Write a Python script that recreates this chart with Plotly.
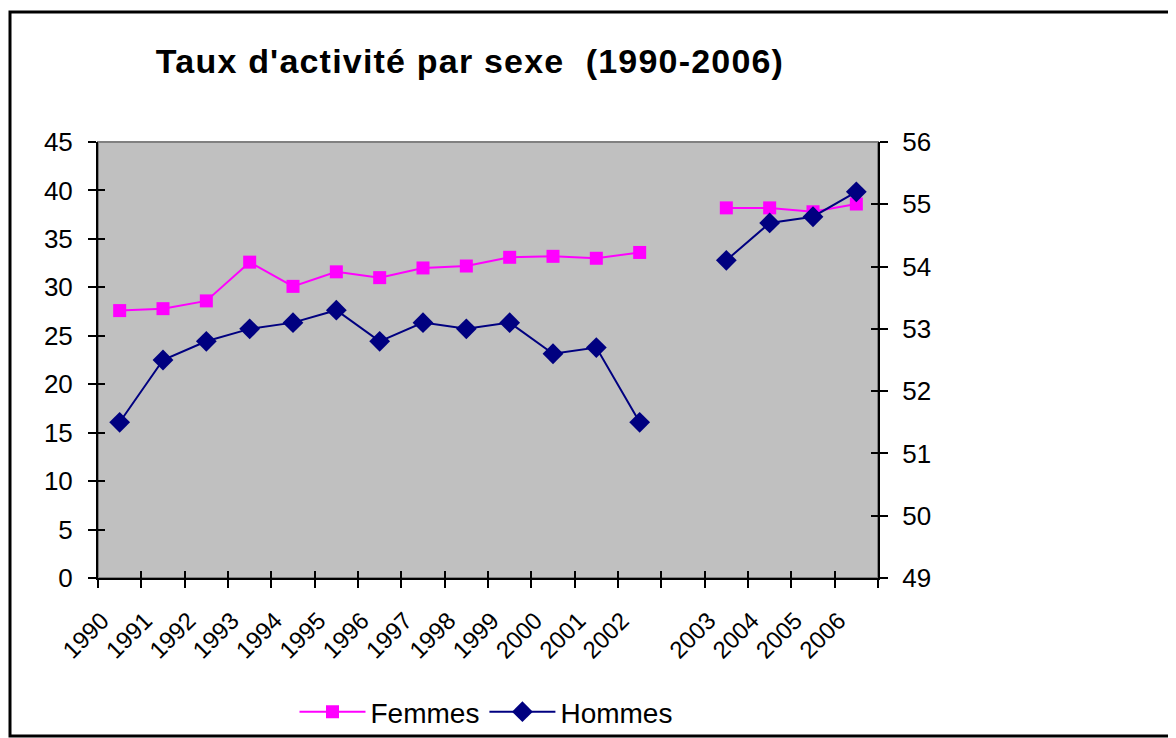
import plotly.graph_objects as go

# ---- data ----
years = ["1990", "1991", "1992", "1993", "1994", "1995", "1996", "1997", "1998",
         "1999", "2000", "2001", "2002", "", "2003", "2004", "2005", "2006"]
femmes = [27.6, 27.8, 28.6, 32.6, 30.1, 31.6, 31.0, 32.0, 32.2,
          33.1, 33.2, 33.0, 33.6, None, 38.2, 38.2, 37.8, 38.6]
hommes = [51.5, 52.5, 52.8, 53.0, 53.1, 53.3, 52.8, 53.1, 53.0,
          53.1, 52.6, 52.7, 51.5, None, 54.1, 54.7, 54.8, 55.2]
left_ticks = [0, 5, 10, 15, 20, 25, 30, 35, 40, 45]
right_ticks = [49, 50, 51, 52, 53, 54, 55, 56]
title_text = "Taux d'activité par sexe  (1990-2006)"

# page has an 8px body margin -> figure coordinates = page coordinates - 8
OFF = 8
W, H = 1176, 738
L, R, T, B = 98 - OFF, 878 - OFF, 142 - OFF, 578 - OFF

xpos = list(range(len(years)))
bounds = [i - 0.5 for i in range(len(years) + 1)]
bound_text = years + [""]
xr = [-0.5, len(years) - 0.5]

FONT = "Liberation Sans, Arial, sans-serif"
fig = go.Figure()

fig.add_trace(go.Scatter(
    x=xpos, y=femmes, name="Femmes", mode="lines+markers",
    line=dict(color="#FF00FF", width=2),
    marker=dict(symbol="square", size=13, color="#FF00FF"),
    connectgaps=False, xaxis="x", yaxis="y"))
fig.add_trace(go.Scatter(
    x=xpos, y=hommes, name="Hommes", mode="lines+markers",
    line=dict(color="#000080", width=2),
    marker=dict(symbol="diamond", size=16, color="#000080"),
    connectgaps=False, xaxis="x", yaxis="y2"))
# empty helper traces so that the inner-tick overlay axes exist
fig.add_trace(go.Scatter(x=[], y=[], xaxis="x2", yaxis="y3", showlegend=False, hoverinfo="skip"))
fig.add_trace(go.Scatter(x=[], y=[], xaxis="x2", yaxis="y4", showlegend=False, hoverinfo="skip"))

yfont = dict(family=FONT, size=26, color="black")
xfont = dict(family=FONT, size=24, color="black")

fig.update_layout(
    width=W, height=H,
    margin=dict(l=L, r=W - R, t=T, b=H - B, pad=0, autoexpand=False),
    paper_bgcolor="white", plot_bgcolor="#C0C0C0",
    title=dict(text='<span style="letter-spacing:1.2px">' + title_text + '</span>',
               font=dict(family=FONT, size=34, color="black", weight="bold"),
               x=(470 - OFF) / W, xref="container", xanchor="center",
               y=1 - (61 - OFF) / H, yref="container", yanchor="middle"),
    xaxis=dict(range=xr, tickmode="array", tickvals=bounds, ticktext=bound_text,
               tickangle=-45, ticks="outside", ticklen=8, tickwidth=2, tickcolor="black",
               showline=True, linecolor="black", linewidth=2, showgrid=False,
               zeroline=False, tickfont=xfont, ticklabelstandoff=9, ticklabelshift=4),
    xaxis2=dict(range=xr, overlaying="x", anchor="y", side="bottom", tickmode="array",
                tickvals=bounds, ticks="inside", ticklen=7, tickwidth=2, tickcolor="black",
                showticklabels=False, showline=False, showgrid=False, zeroline=False),
    yaxis=dict(range=[0, 45], tickmode="array", tickvals=left_ticks,
               ticks="outside", ticklen=8, tickwidth=2, tickcolor="black",
               showline=True, linecolor="black", linewidth=2, showgrid=False,
               zeroline=False, tickfont=yfont, ticklabelstandoff=10),
    yaxis2=dict(range=[49, 56], overlaying="y", side="right", anchor="x", tickmode="array",
                tickvals=right_ticks, ticks="outside", ticklen=8, tickwidth=2, tickcolor="black",
                showline=True, linecolor="black", linewidth=2, showgrid=False,
                zeroline=False, tickfont=yfont, ticklabelstandoff=9),
    yaxis3=dict(range=[0, 45], overlaying="y", side="left", anchor="x", tickmode="array",
                tickvals=left_ticks, ticks="inside", ticklen=7, tickwidth=2, tickcolor="black",
                showticklabels=False, showline=False, showgrid=False, zeroline=False),
    yaxis4=dict(range=[49, 56], overlaying="y", side="right", anchor="x", tickmode="array",
                tickvals=right_ticks, ticks="inside", ticklen=7, tickwidth=2, tickcolor="black",
                showticklabels=False, showline=False, showgrid=False, zeroline=False),
    legend=dict(orientation="h", x=(486 - OFF - L) / (R - L), xanchor="center",
                y=(B - (712 - OFF)) / (B - T), yanchor="middle",
                font=dict(family=FONT, size=28, color="black"),
                bgcolor="rgba(0,0,0,0)", itemwidth=66, traceorder="normal"),
    showlegend=True,
    shapes=[
        dict(type="rect", xref="paper", yref="paper", x0=0, x1=1, y0=0, y1=1,
             line=dict(color="#808080", width=2), layer="below"),
        dict(type="rect", xref="paper", yref="paper",
             x0=(10 - OFF - L) / (R - L), x1=(1190 - OFF - L) / (R - L),
             y0=(B - (736 - OFF)) / (B - T), y1=(B - (12 - OFF)) / (B - T),
             line=dict(color="black", width=3), layer="above"),
    ],
)

fig.write_html("out.html")
